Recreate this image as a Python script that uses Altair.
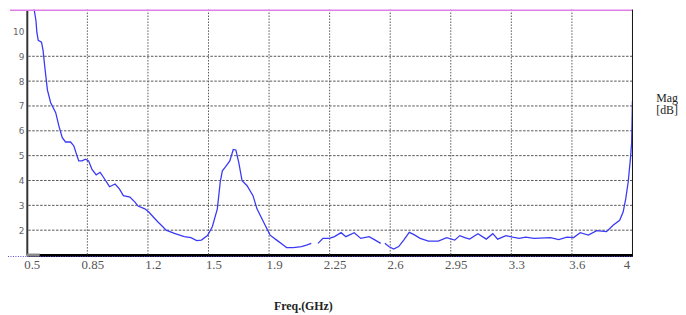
import altair as alt
import pandas as pd

# ---- data ----
FREQ = [0.525, 0.539, 0.553, 0.558, 0.566, 0.585, 0.594, 0.604, 0.619, 0.638,
        0.667, 0.686, 0.705, 0.724, 0.753, 0.772, 0.787, 0.800, 0.819, 0.839,
        0.857, 0.876, 0.901, 0.924, 0.943, 0.978, 1.010, 1.035, 1.058, 1.096,
        1.125, 1.143, 1.182, 1.205, 1.239, 1.258, 1.286, 1.305, 1.353, 1.410,
        1.448, 1.482, 1.509, 1.544, 1.572, 1.601, 1.618, 1.630, 1.648, 1.673,
        1.693, 1.708, 1.725, 1.744, 1.773, 1.807, 1.830, 1.868, 1.906, 1.944,
        1.982, 2.001, 2.040, 2.087, 2.116, 2.144,
        2.183, 2.211, 2.249, 2.278, 2.316, 2.344, 2.392, 2.430, 2.478, 2.506, 2.545,
        2.569, 2.592, 2.620, 2.649, 2.678, 2.710, 2.735, 2.773, 2.821, 2.878,
        2.926, 2.973, 3.002, 3.031, 3.059, 3.107, 3.155, 3.193, 3.221, 3.269,
        3.307, 3.345, 3.383, 3.431, 3.526, 3.574, 3.621, 3.660, 3.698, 3.745,
        3.793, 3.850, 3.888, 3.926, 3.946, 3.961, 3.975, 3.988, 3.995, 4.000]
MAG = [11.6, 11.03, 10.43, 9.97, 9.64, 9.57, 9.24, 8.57, 7.65, 7.13,
       6.73, 6.18, 5.72, 5.55, 5.55, 5.39, 5.06, 4.79, 4.79, 4.86,
       4.79, 4.46, 4.23, 4.33, 4.13, 3.75, 3.86, 3.66, 3.39, 3.33,
       3.13, 2.97, 2.86, 2.73, 2.47, 2.33, 2.14, 2.00, 1.87, 1.74,
       1.70, 1.58, 1.60, 1.78, 2.14, 2.86, 3.95, 4.39, 4.55, 4.79,
       5.25, 5.23, 4.72, 3.99, 3.79, 3.39, 2.86, 2.33, 1.80, 1.60,
       1.40, 1.30, 1.30, 1.34, 1.40, 1.47,
       1.47, 1.67, 1.67, 1.74, 1.90, 1.74, 1.90, 1.67, 1.74, 1.63, 1.47,
       1.47, 1.34, 1.24, 1.34, 1.60, 1.91, 1.83, 1.67, 1.56, 1.56,
       1.70, 1.60, 1.78, 1.70, 1.64, 1.86, 1.64, 1.86, 1.64, 1.78,
       1.72, 1.67, 1.72, 1.67, 1.70, 1.62, 1.72, 1.70, 1.90, 1.80,
       1.98, 1.94, 2.20, 2.40, 2.73, 3.26, 3.93, 4.86, 5.50, 7.20]
SEGMENT = [1] * 66 + [2] * 11 + [3] * 40

X_TICKS = [0.5, 0.85, 1.2, 1.55, 1.9, 2.25, 2.6, 2.95, 3.3, 3.65, 4.0]
X_LABELS = ["0.5", "0.85", "1.2", "1.5", "1.9", "2.25", "2.6", "2.95", "3.3", "3.6", "4"]
Y_TICKS = [2, 3, 4, 5, 6, 7, 8, 9, 10]
GRID_X = X_TICKS[1:-1]
GRID_Y = [2, 3, 4, 5, 6, 7, 8, 9]
UNIT_LINES = ["Mag", "[dB]"]

W, H = 612, 248
X_DOMAIN = [0.5, 4.0]
Y_DOMAIN = [1, 10.88]

df = pd.DataFrame({"freq": FREQ, "mag": MAG, "seg": SEGMENT})
one = pd.DataFrame({"k": [0]})

label_expr = "[" + ",".join(f"'{s}'" for s in X_LABELS) + "][round((datum.value-0.5)/0.35)]"

xscale = alt.Scale(domain=X_DOMAIN, nice=False, zero=False)
yscale = alt.Scale(domain=Y_DOMAIN, nice=False, zero=False)

x_axis = alt.Axis(
    values=X_TICKS,
    labelExpr=label_expr,
    grid=False,
    ticks=False,
    domain=True,
    domainColor="#000000",
    domainWidth=3,
    labelFont="Liberation Serif",
    labelFontSize=13,
    labelColor="#555555",
    labelPadding=4,
    labelFlush=False,
    labelOverlap=False,
    labelOffset={"condition": {"test": "datum.value > 3.9", "value": -6}, "value": 5},
    title="Freq.(GHz)",
    titleFont="Liberation Serif",
    titleFontSize=12,
    titleFontWeight="bold",
    titleColor="#222222",
    titleX=279,
    titleY=55,
    titleBaseline="alphabetic",
    titleAnchor="middle",
)
y_axis = alt.Axis(
    values=Y_TICKS,
    grid=False,
    ticks=False,
    domain=True,
    domainColor="#333333",
    domainWidth=2,
    labelFont="DejaVu Sans",
    labelFontSize=9,
    labelColor="#666666",
    labelPadding=3,
    labelOverlap=False,
    title=None,
)

vgrid = alt.Chart(pd.DataFrame({"g": GRID_X})).mark_rule(
    color="#555555", strokeWidth=1, strokeDash=[1.5, 1.5]
).encode(x=alt.X("g:Q", scale=xscale, axis=x_axis, title="Freq.(GHz)"))

hgrid = alt.Chart(pd.DataFrame({"g": GRID_Y})).mark_rule(
    color="#555555", strokeWidth=1, strokeDash=[2.5, 1.5]
).encode(y=alt.Y("g:Q", scale=yscale, axis=y_axis, title=None))

line = alt.Chart(df).mark_line(color="#3a3af5", strokeWidth=1.3, clip=True).encode(
    x=alt.X("freq:Q", scale=xscale, axis=x_axis, title="Freq.(GHz)"),
    y=alt.Y("mag:Q", scale=yscale, axis=y_axis, title=None),
    detail="seg:N",
    order="freq:Q",
)

top_line = alt.Chart(one).mark_rule(color="#e07ee6", strokeWidth=1.5).encode(
    x=alt.value(-17), x2=alt.value(W), y=alt.value(0.75)
)
right_border = alt.Chart(one).mark_rule(color="#111111", strokeWidth=1).encode(
    x=alt.value(W), y=alt.value(0), y2=alt.value(H)
)
bottom_dots = alt.Chart(one).mark_rule(color="#5b46d6", strokeWidth=1, strokeDash=[1, 1.5]).encode(
    x=alt.value(-19), x2=alt.value(W), y=alt.value(H + 1.5)
)
axis_grey = alt.Chart(one).mark_rule(color="#8a8a8a", strokeWidth=3).encode(
    x=alt.value(0), x2=alt.value(13), y=alt.value(H)
)
mag_label = alt.Chart(one).mark_text(
    text=UNIT_LINES, align="left", baseline="alphabetic",
    font="Liberation Serif", fontSize=12, lineHeight=13, color="#222222"
).encode(x=alt.value(636), y=alt.value(93))

chart = alt.layer(
    vgrid, hgrid, line, top_line, right_border, bottom_dots, axis_grey, mag_label
).properties(
    width=W,
    height=H,
    padding={"left": 19, "top": 0, "right": 46, "bottom": 58},
    autosize=alt.AutoSizeParams(type="none"),
    background="white",
).configure_view(stroke=None)

chart.save("out.html", embed_options={"renderer": "svg", "actions": False})
